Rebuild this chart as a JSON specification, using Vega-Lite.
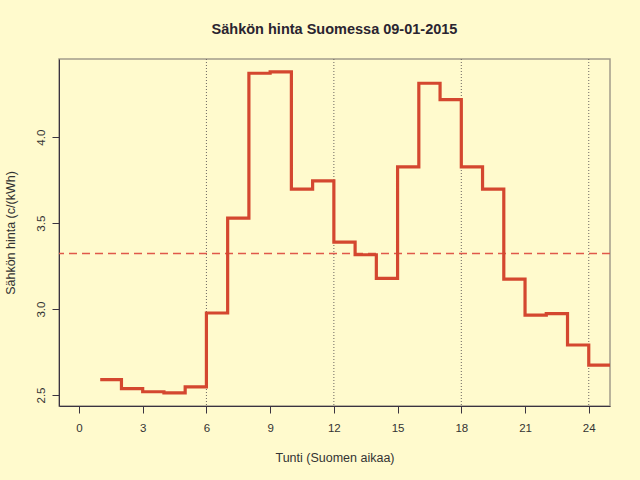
{
  "$schema": "https://vega.github.io/schema/vega-lite/v6.json",
  "autosize": "none",
  "width": 551,
  "height": 347,
  "padding": {"left": 59, "top": 59, "right": 30, "bottom": 74},
  "background": "#FFFACD",
  "title": {
    "text": "Sähkön hinta Suomessa 09-01-2015",
    "font": "Liberation Sans",
    "fontSize": 14.5,
    "fontWeight": "bold",
    "color": "#2a2430",
    "anchor": "middle",
    "offset": 21
  },
  "config": {
    "view": {"stroke": "#a39c8a", "strokeWidth": 1.5},
    "axis": {
      "labelFont": "Liberation Sans",
      "titleFont": "Liberation Sans",
      "labelFontSize": 11.5,
      "titleFontSize": 12.5,
      "titleFontWeight": "normal",
      "labelColor": "#333333",
      "titleColor": "#333333",
      "domainColor": "#3a3340",
      "tickColor": "#3a3340",
      "tickSize": 7,
      "grid": false
    }
  },
  "datasets": {
    "prices": [
      {"hour": 1, "price": 2.589},
      {"hour": 2, "price": 2.537},
      {"hour": 3, "price": 2.519},
      {"hour": 4, "price": 2.512},
      {"hour": 5, "price": 2.547},
      {"hour": 6, "price": 2.977},
      {"hour": 7, "price": 3.529},
      {"hour": 8, "price": 4.372},
      {"hour": 9, "price": 4.38},
      {"hour": 10, "price": 3.698},
      {"hour": 11, "price": 3.746},
      {"hour": 12, "price": 3.39},
      {"hour": 13, "price": 3.316},
      {"hour": 14, "price": 3.178},
      {"hour": 15, "price": 3.827},
      {"hour": 16, "price": 4.314},
      {"hour": 17, "price": 4.219},
      {"hour": 18, "price": 3.827},
      {"hour": 19, "price": 3.698},
      {"hour": 20, "price": 3.174},
      {"hour": 21, "price": 2.965},
      {"hour": 22, "price": 2.974},
      {"hour": 23, "price": 2.791},
      {"hour": 24, "price": 2.674},
      {"hour": 25, "price": 2.674}
    ],
    "guides": [{"hour": 6}, {"hour": 12}, {"hour": 18}, {"hour": 24}],
    "mean": [{"price": 3.323}]
  },
  "layer": [
    {
      "data": {"name": "guides"},
      "mark": {"type": "rule", "color": "#6b6560", "strokeWidth": 1, "strokeDash": [1, 2]},
      "encoding": {
        "x": {"field": "hour", "type": "quantitative"}
      }
    },
    {
      "data": {"name": "mean"},
      "mark": {"type": "rule", "color": "#e0584a", "strokeWidth": 1.5, "strokeDash": [8, 5]},
      "encoding": {
        "y": {"field": "price", "type": "quantitative"}
      }
    },
    {
      "data": {"name": "prices"},
      "mark": {"type": "line", "interpolate": "step-after", "color": "#d4472f", "strokeWidth": 3.2, "clip": true},
      "encoding": {
        "x": {
          "field": "hour",
          "type": "quantitative",
          "scale": {"domain": [-0.94, 25], "nice": false, "zero": false},
          "axis": {
            "values": [0, 3, 6, 9, 12, 15, 18, 21, 24],
            "title": "Tunti (Suomen aikaa)",
            "labelPadding": 9,
            "titleY": 45
          }
        },
        "y": {
          "field": "price",
          "type": "quantitative",
          "scale": {"domain": [2.436, 4.455], "nice": false, "zero": false},
          "axis": {
            "values": [2.5, 3.0, 3.5, 4.0],
            "format": ".1f",
            "labelAngle": -90,
            "labelAlign": "center",
            "labelBaseline": "bottom",
            "labelPadding": 6,
            "title": "Sähkön hinta (c/(kWh)",
            "titleX": -42
          }
        }
      }
    }
  ]
}
